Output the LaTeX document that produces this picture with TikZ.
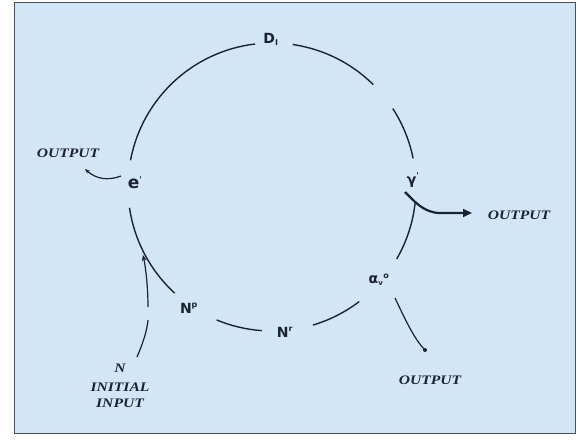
\documentclass[tikz,border=0pt]{standalone}
\usepackage{fontspec}
\setmainfont{Liberation Serif}
\newfontfamily\labfont{DejaVu Sans}
\usetikzlibrary{arrows.meta}
\definecolor{bgblue}{HTML}{D3E6F7}
\definecolor{ink}{HTML}{1A2330}
\definecolor{framec}{HTML}{4A4F55}
\begin{document}
\begin{tikzpicture}[x=1pt,y=1pt,
  ring/.style={draw=ink,line width=1.4pt},
  feed/.style={draw=ink,line width=1.2pt},
  outlbl/.style={font=\fontsize{13}{13}\selectfont\bfseries\itshape,text=ink,xscale=1.2,inner sep=0pt},
  sym/.style={font=\labfont\fontsize{14}{14}\selectfont\bfseries,text=ink,inner sep=0pt}]
\useasboundingbox (0,0) rectangle (578,439);
\fill[white] (0,0) rectangle (578,439);
\filldraw[fill=bgblue,draw=framec,line width=1pt] (14,6) rectangle (575,436);
\coordinate (c) at (272,252);
% ring arcs
\foreach \a/\b in {96.7/169.3, 188.3/227.5, 247.4/266, 286.5/307.3, 330/354, 11.5/33, 45.3/81.7}{
  \draw[ring] ([shift={(\a:144pt)}]c) arc[start angle=\a, end angle=\b, radius=144pt];
}
% labels on the ring
\node[sym] (d) at (271,400) {D\textsubscript{\fontsize{8}{8}\selectfont I}};
\node[sym] (g) at (413,259) {γ\textsuperscript{\fontsize{8}{8}\selectfont '}};
\node[sym] (a) at (379,159) {α\textsubscript{\fontsize{7}{7}\selectfont v}\textsuperscript{\fontsize{8}{8}\selectfont o}};
\node[sym] (n2) at (285,107) {N\textsuperscript{\fontsize{8}{8}\selectfont r}};
\node[sym] (n1) at (189,131) {N\textsuperscript{\fontsize{8}{8}\selectfont p}};
\node[sym] (e) at (135,256) {\fontsize{17}{17}\selectfont e\textsuperscript{\fontsize{8}{8}\selectfont '}};
% output labels
\node[outlbl] (o1) at (68,286) {OUTPUT};
\node[outlbl] (o2) at (519,224) {OUTPUT};
\node[outlbl] (o3) at (430,59) {OUTPUT};
\node[outlbl] (in1) at (120,71) {N};
\node[outlbl] (in2) at (120,52) {INITIAL};
\node[outlbl] (in3) at (120,36) {INPUT};
% connector end points
\coordinate (e1) at (121,263);
\coordinate (o1t) at (85,270);
\coordinate (g1) at (405,247);
\coordinate (o2t) at (472,226);
\coordinate (a1) at (395,141);
\coordinate (o3t) at (425,89);
\coordinate (i0) at (137,82);
\coordinate (i1) at (148,119);
\coordinate (i2) at (148,132);
\coordinate (ij) at (143,184);
% output from e'
\draw[feed,-{Stealth[length=5pt,width=4pt]}] (e1) .. controls (108,258) and (96,260) .. (o1t);
% output from gamma'
\draw[ink,line width=2.2pt,-{Triangle[length=9pt,width=8pt]}] (g1) .. controls (414,238) and (424,226) .. (440,226) -- (o2t);
% output from alpha
\draw[feed] (a1) .. controls (404,122) and (414,100) .. (o3t);
\fill[ink] (o3t) circle (2pt);
% initial input
\draw[feed] (i0) .. controls (143,96) and (147,108) .. (i1);
\draw[feed,-{Stealth[length=6pt,width=5pt]}] (i2) .. controls (148,150) and (146,170) .. (ij);
\end{tikzpicture}
\end{document}
